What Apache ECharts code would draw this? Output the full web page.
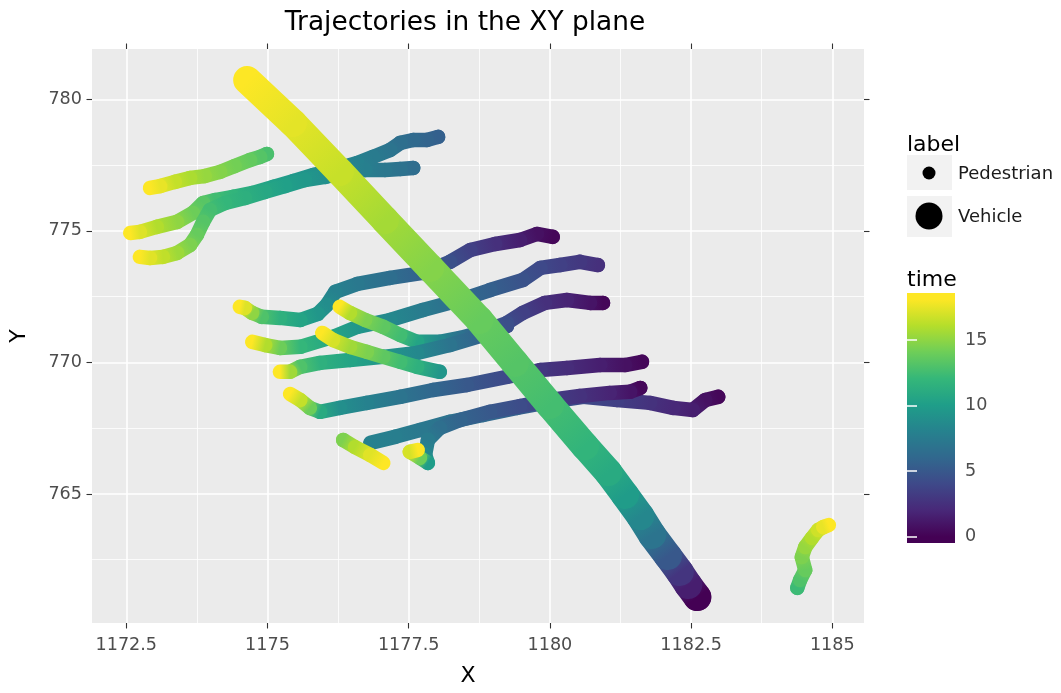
<!DOCTYPE html>
<html>
<head>
<meta charset="utf-8">
<script src="https://cdn.jsdelivr.net/npm/echarts@6/dist/echarts.min.js"></script>
<style>html,body{margin:0;padding:0;background:#fff}#chart{width:1061px;height:693px}</style>
</head>
<body>
<div id="chart"></div>
<script>
// ---------- categories & ticks ----------
const labels = ['Pedestrian', 'Vehicle'];
const xTicks = [1172.5, 1175, 1177.5, 1180, 1182.5, 1185];
const xMinorTicks = [1173.75, 1176.25, 1178.75, 1181.25, 1183.75];
const yTicks = [765, 770, 775, 780];
const yMinorTicks = [762.5, 767.5, 772.5, 777.5];
const timeTicks = [0, 5, 10, 15];
const timeRange = [0, 18.1];

// ---------- trajectories: [X, Y, time] ----------
const pedA = [[1174.99,777.92,12.8],[1174.87,777.81,13.2],[1174.69,777.69,13.7],[1174.42,777.46,14.2],[1174.16,777.24,14.7],[1173.89,777.08,15.2],[1173.63,777.01,15.8],[1173.36,776.86,16.5],[1173.10,776.70,17.5],[1172.92,776.63,18.1]];
const pedB = [[1178.02,778.57,5.5],[1177.82,778.45,5.8],[1177.58,778.45,6.2],[1177.35,778.34,6.6],[1177.17,778.07,7.0],[1176.87,777.81,7.5],[1176.59,777.58,8.0],[1176.16,777.31,8.6],[1175.81,777.12,9.1],[1175.45,776.89,9.7],[1175.10,776.67,10.3],[1174.74,776.44,11.0],[1174.39,776.29,11.8],[1174.07,776.17,12.5],[1173.86,776.06,13.3],[1173.68,775.68,14.0],[1173.40,775.34,15.0],[1173.04,775.15,16.0],[1172.74,774.96,17.2],[1172.57,774.92,18.1]];
const pedC = [[1177.58,777.39,6.4],[1177.35,777.35,6.8],[1177.08,777.31,7.2],[1176.73,777.31,7.8],[1176.37,777.24,8.4],[1176.02,777.05,9.0],[1175.66,776.93,9.6],[1175.31,776.70,10.2],[1174.96,776.48,10.8],[1174.60,776.25,11.4],[1174.25,776.06,12.0],[1173.98,775.79,12.6],[1173.86,775.34,13.2],[1173.75,774.84,13.8],[1173.63,774.46,14.5],[1173.40,774.16,15.4],[1173.15,774.01,16.4],[1172.92,773.97,17.3],[1172.74,774.01,18.1]];
const pedD = [[1180.05,774.77,0.3],[1179.77,774.88,0.8],[1179.47,774.65,1.5],[1179.03,774.50,2.5],[1178.59,774.27,3.5],[1178.23,773.82,4.5],[1177.75,773.40,5.5],[1177.17,773.21,6.5],[1176.59,772.98,7.3],[1176.20,772.68,8.0],[1176.05,772.18,8.8],[1175.89,771.84,9.5],[1175.58,771.61,10.5],[1175.22,771.69,11.5],[1174.90,771.73,13.0],[1174.73,771.88,15.0],[1174.60,772.07,17.2],[1174.51,772.11,18.1]];
const pedE = [[1180.85,773.70,2.5],[1180.53,773.82,3.0],[1180.18,773.70,3.5],[1179.83,773.59,4.0],[1179.52,773.13,4.6],[1178.94,772.75,5.5],[1178.41,772.37,6.3],[1177.75,771.99,7.5],[1177.17,771.61,8.5],[1176.59,771.35,9.5],[1176.16,770.97,10.5],[1175.58,770.59,12.0],[1175.22,770.55,14.0],[1174.96,770.66,16.0],[1174.73,770.78,18.1]];
const pedF = [[1180.94,772.26,0.3],[1180.71,772.26,1.0],[1180.30,772.37,1.8],[1179.91,772.26,2.5],[1179.52,771.88,3.5],[1179.24,771.50,4.3],[1178.82,771.16,5.5],[1178.41,770.93,6.8],[1178.05,770.78,8.5],[1177.65,770.78,10.5],[1177.35,771.04,12.5],[1177.05,771.35,13.5],[1176.73,771.61,14.5],[1176.46,771.88,16.0],[1176.28,772.11,18.1]];
const pedG = [[1179.24,771.38,4.4],[1178.82,771.04,5.6],[1178.23,770.66,7.0],[1177.65,770.36,8.5],[1177.05,770.21,9.5],[1176.46,770.09,10.5],[1175.93,769.98,11.5],[1175.58,769.83,13.0],[1175.40,769.64,15.5],[1175.22,769.64,18.1]];
const pedH = [[1178.05,769.64,9.5],[1177.65,769.83,11.5],[1177.35,770.02,12.5],[1177.05,770.21,13.5],[1176.76,770.40,14.5],[1176.46,770.59,15.5],[1176.16,770.85,17.0],[1175.97,771.12,18.1]];
const pedI = [[1181.63,770.02,0.3],[1181.33,769.90,0.8],[1180.89,769.90,1.5],[1180.30,769.79,2.3],[1179.83,769.71,3.0],[1179.24,769.45,4.0],[1178.53,769.14,5.0],[1177.93,768.95,6.0],[1177.35,768.69,7.0],[1176.76,768.46,8.0],[1176.28,768.27,9.0],[1175.93,768.12,11.0],[1175.75,768.27,14.0],[1175.58,768.57,16.5],[1175.40,768.80,18.1]];
const pedJ = [[1182.98,768.69,0.3],[1182.75,768.57,0.8],[1182.53,768.19,1.5],[1182.18,768.27,2.0],[1181.77,768.46,2.6],[1181.19,768.57,3.4],[1180.59,768.69,4.0],[1180.00,768.50,4.8],[1179.42,768.27,5.5],[1178.82,768.00,6.2],[1178.23,767.74,6.8],[1177.70,767.43,7.3],[1177.26,767.17,7.7],[1176.82,766.94,8.0]];
const pedK = [[1176.34,767.05,14.5],[1176.55,766.78,16.0],[1176.82,766.48,17.3],[1177.05,766.18,18.1]];
const pedL = [[1181.60,769.03,0.3],[1181.42,768.88,1.0],[1181.06,768.84,1.8],[1180.53,768.72,2.6],[1180.00,768.57,3.4],[1179.47,768.34,4.2],[1178.94,768.12,5.0],[1178.41,767.81,5.8],[1178.05,767.51,6.6],[1177.84,767.05,7.5],[1177.79,766.48,8.5],[1177.84,766.18,10.0],[1177.70,766.37,14.0],[1177.52,766.60,17.0],[1177.66,766.67,18.1]];
const pedM = [[1184.38,761.43,12.3],[1184.43,761.73,13.0],[1184.52,762.11,13.8],[1184.46,762.60,14.5],[1184.52,762.98,15.2],[1184.64,763.33,16.0],[1184.75,763.63,16.8],[1184.84,763.74,17.5],[1184.94,763.82,18.1]];
const vehicle = [[1182.61,761.08,0.0],[1182.45,761.54,1.5],[1182.30,762.03,2.8],[1182.09,762.64,5.0],[1181.81,763.44,7.0],[1181.60,764.16,8.4],[1181.33,764.96,9.9],[1181.03,765.83,11.0],[1180.62,766.82,11.8],[1180.00,768.38,12.6],[1179.38,769.98,13.2],[1178.75,771.61,13.8],[1177.88,773.59,14.7],[1177.08,775.41,15.6],[1176.28,777.24,16.6],[1175.45,779.10,17.4],[1174.64,780.73,18.1]];

const pedestrianTracks = [pedA, pedB, pedC, pedD, pedE, pedF, pedG, pedH, pedI, pedJ, pedK, pedL, pedM];
const vehicleTracks = [vehicle];

// ---------- styling ----------
const viridis = ['#440154','#482878','#3e4989','#31688e','#26828e','#1f9e89','#35b779','#6ece58','#b5de2b','#fde725'];
const FONT = 'DejaVu Sans';
const panel = {left: 92, top: 49, width: 772, height: 574};
const xRange = [1171.893, 1185.561];
const yRange = [760.095, 781.91];
const barAxisRange = [-0.476, 18.576];

function toItems(tracks) {
  const out = [];
  tracks.forEach(tr => tr.forEach((p, i) => out.push([p[0], p[1], p[2], i === 0 ? 1 : 0])));
  return out;
}
function makeRender(width) {
  return function (params, api) {
    const i = params.dataIndexInside;
    const p1 = api.coord([api.value(0), api.value(1)]);
    const c1 = api.visual('color');
    if (api.value(3) === 1) {
      return {type: 'circle', shape: {cx: p1[0], cy: p1[1], r: width / 2}, style: {fill: c1}};
    }
    const p0 = api.coord([api.value(0, i - 1), api.value(1, i - 1)]);
    const c0 = api.visual('color', i - 1);
    return {
      type: 'line',
      shape: {x1: p0[0], y1: p0[1], x2: p1[0], y2: p1[1]},
      style: {
        stroke: {type: 'linear', x: p0[0], y: p0[1], x2: p1[0], y2: p1[1], global: true,
          colorStops: [{offset: 0, color: c0}, {offset: 1, color: c1}]},
        lineWidth: width, lineCap: 'round', fill: null
      }
    };
  };
}
const barStops = viridis.map((c, k) => ({offset: 0.025 + 0.95 * k / (viridis.length - 1), color: c}));

const fmt = v => String(v);
const tickStyle = {color: '#333333', width: 1.1};

const option = {
  animation: false,
  backgroundColor: '#ffffff',
  textStyle: {fontFamily: FONT},
  title: {
    text: 'Trajectories in the XY plane', left: 465, top: 10, padding: 0,
    textAlign: 'center', textVerticalAlign: 'top',
    textStyle: {fontFamily: FONT, fontSize: 26.4, fontWeight: 'normal', color: '#000'}
  },
  grid: [
    Object.assign({show: true, backgroundColor: '#ebebeb', borderWidth: 0, containLabel: false, outerBoundsMode: 'none'}, panel),
    {left: 907, top: 293, width: 48, height: 250, show: true, borderWidth: 0, containLabel: false, outerBoundsMode: 'none',
     backgroundColor: {type: 'linear', x: 0, y: 1, x2: 0, y2: 0, colorStops: barStops}}
  ],
  xAxis: [
    {gridIndex: 0, type: 'value', position: 'bottom', min: xRange[0], max: xRange[1],
     axisLine: {show: false},
     axisTick: {show: true, customValues: xTicks, length: 5.5, lineStyle: tickStyle},
     axisLabel: {customValues: xTicks, formatter: fmt, color: '#4d4d4d', fontSize: 17.6, fontFamily: FONT, margin: 13},
     splitLine: {show: true, lineStyle: {color: '#ffffff', width: 1.6}},
     name: 'X', nameLocation: 'middle', nameGap: 42,
     nameTextStyle: {fontFamily: FONT, fontSize: 22, color: '#000', padding: [0, 20, 0, 0]}},
    {gridIndex: 0, type: 'value', position: 'top', min: xRange[0], max: xRange[1],
     axisLine: {show: false},
     axisTick: {show: true, customValues: xTicks, length: 5.5, lineStyle: tickStyle},
     axisLabel: {show: false}, splitLine: {show: false}},
    {gridIndex: 0, type: 'value', position: 'bottom', min: xRange[0], max: xRange[1],
     axisLine: {show: false}, axisTick: {show: false, customValues: xMinorTicks},
     axisLabel: {show: false}, splitLine: {show: true, lineStyle: {color: '#ffffff', width: 0.8}}},
    {gridIndex: 1, type: 'value', show: false, min: 0, max: 1}
  ],
  yAxis: [
    {gridIndex: 0, type: 'value', position: 'left', min: yRange[0], max: yRange[1],
     axisLine: {show: false},
     axisTick: {show: true, customValues: yTicks, length: 5.5, lineStyle: tickStyle},
     axisLabel: {customValues: yTicks, formatter: fmt, color: '#4d4d4d', fontSize: 17.6, fontFamily: FONT, margin: 10},
     splitLine: {show: true, lineStyle: {color: '#ffffff', width: 1.6}},
     name: 'Y', nameLocation: 'middle', nameGap: 62, nameRotate: 90,
     nameTextStyle: {fontFamily: FONT, fontSize: 22, color: '#000'}},
    {gridIndex: 0, type: 'value', position: 'right', min: yRange[0], max: yRange[1],
     axisLine: {show: false},
     axisTick: {show: true, customValues: yTicks, length: 5.5, lineStyle: tickStyle},
     axisLabel: {show: false}, splitLine: {show: false}},
    {gridIndex: 0, type: 'value', position: 'left', min: yRange[0], max: yRange[1],
     axisLine: {show: false}, axisTick: {show: false, customValues: yMinorTicks},
     axisLabel: {show: false}, splitLine: {show: true, lineStyle: {color: '#ffffff', width: 0.8}}},
    {gridIndex: 1, type: 'value', position: 'right', min: barAxisRange[0], max: barAxisRange[1],
     axisLine: {show: false},
     axisTick: {show: true, inside: true, customValues: timeTicks, length: 10, lineStyle: {color: 'rgba(255,255,255,0.75)', width: 2}},
     axisLabel: {customValues: timeTicks, formatter: fmt, color: '#4d4d4d', fontSize: 17.6, fontFamily: FONT, margin: 10},
     splitLine: {show: false}},
    {gridIndex: 1, type: 'value', position: 'left', min: barAxisRange[0], max: barAxisRange[1],
     axisLine: {show: false},
     axisTick: {show: true, inside: true, customValues: timeTicks, length: 10, lineStyle: {color: 'rgba(255,255,255,0.75)', width: 2}},
     axisLabel: {show: false}, splitLine: {show: false}}
  ],
  visualMap: {
    type: 'continuous', show: false, dimension: 2, seriesIndex: [0, 1],
    min: timeRange[0], max: timeRange[1], inRange: {color: viridis}
  },
  series: [
    {type: 'custom', name: labels[0], coordinateSystem: 'cartesian2d', xAxisIndex: 0, yAxisIndex: 0,
     dimensions: ['x', 'y', 'time', 'start'], encode: {x: 0, y: 1},
     data: toItems(pedestrianTracks), renderItem: makeRender(14.5)},
    {type: 'custom', name: labels[1], coordinateSystem: 'cartesian2d', xAxisIndex: 0, yAxisIndex: 0,
     dimensions: ['x', 'y', 'time', 'start'], encode: {x: 0, y: 1},
     data: toItems(vehicleTracks), renderItem: makeRender(28)}
  ],
  graphic: [
    {type: 'text', x: 907, y: 145, style: {text: 'label', fontSize: 22, fontFamily: FONT, fill: '#000', align: 'left', verticalAlign: 'middle'}},
    {type: 'rect', shape: {x: 907, y: 155, width: 45, height: 35}, style: {fill: '#f2f2f2'}},
    {type: 'rect', shape: {x: 907, y: 196, width: 45, height: 41}, style: {fill: '#f2f2f2'}},
    {type: 'circle', shape: {cx: 929, cy: 173, r: 6.5}, style: {fill: '#000'}},
    {type: 'circle', shape: {cx: 929, cy: 216, r: 13.5}, style: {fill: '#000'}},
    {type: 'text', x: 958, y: 174, style: {text: labels[0], fontSize: 18, fontFamily: FONT, fill: '#1a1a1a', align: 'left', verticalAlign: 'middle'}},
    {type: 'text', x: 958, y: 217, style: {text: labels[1], fontSize: 18, fontFamily: FONT, fill: '#1a1a1a', align: 'left', verticalAlign: 'middle'}},
    {type: 'text', x: 907, y: 280, style: {text: 'time', fontSize: 22, fontFamily: FONT, fill: '#000', align: 'left', verticalAlign: 'middle'}}
  ]
};

const chart = echarts.init(document.getElementById('chart'), null, {renderer: 'canvas'});
chart.setOption(option);
</script>
</body>
</html>
